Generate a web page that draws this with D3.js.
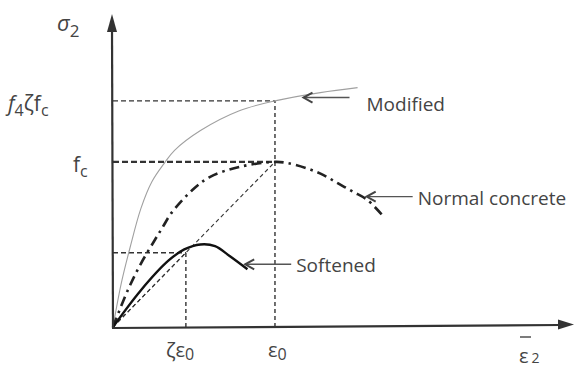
<!DOCTYPE html>
<html>
<head>
<meta charset="utf-8">
<script src="https://cdn.jsdelivr.net/npm/d3@7"></script>
<style>
  body { margin: 0; background: #fff; }
  text { font-family: "Open Sans", sans-serif; fill: #444; }
</style>
</head>
<body>
<div id="chart"></div>
<script>
// strain / eps0 and stress / fc
var normalEps   = [0, 0.09, 0.17, 0.26, 0.31, 0.36, 0.49, 0.6, 0.78, 1, 1.074, 1.2, 1.3, 1.39, 1.48, 1.57, 1.66];
var normalSig   = [0, 0.22, 0.38, 0.53, 0.61, 0.69, 0.83, 0.91, 0.97, 1, 0.994, 0.96, 0.92, 0.87, 0.82, 0.77, 0.68];
var modifiedEps = [0, 0.05, 0.105, 0.173, 0.24, 0.315, 0.38, 0.54, 0.78, 1, 1.28, 1.51];
var modifiedSig = [0, 0.26, 0.48, 0.72, 0.88, 0.99, 1.07, 1.19, 1.31, 1.37, 1.42, 1.45];
var softEps     = [0, 0.17, 0.34, 0.44, 0.54, 0.63, 0.72, 0.83];
var softSig     = [0, 0.22, 0.40, 0.47, 0.5, 0.49, 0.43, 0.35];

var zeta = 0.45;     // zeta * eps0 and zeta * fc
var peakMod = 1.37;  // f4 zeta fc

// arrow tips of the curve labels
var labelNames = ["Modified", "Normal concrete", "Softened"];
var labelEps   = [1.17, 1.56, 0.81];
var labelSig   = [1.39, 0.79, 0.38];

var width = 574, height = 369;

var svg = d3.select('#chart')
    .append('svg')
        .attr('width', width)
        .attr('height', height);

var x = d3.scaleLinear().domain([0, 2.84]).range([113, 573]);
var y = d3.scaleLinear().domain([0, 1.89]).range([327, 15]);

function pts(xs, ys) {
    return xs.map(function(v, i) { return [v, ys[i]]; });
}

var line = d3.line()
    .x(function(d) { return x(d[0]); })
    .y(function(d) { return y(d[1]); })
    .curve(d3.curveCatmullRom.alpha(0.5));

var straight = d3.line()
    .x(function(d) { return x(d[0]); })
    .y(function(d) { return y(d[1]); });

// guide lines
var guides = [
    {p: [[0, peakMod], [1, peakMod]], w: 1.2, dash: "5,3"},
    {p: [[1, 0], [1, peakMod]], w: 1.4, dash: "4,3"},
    {p: [[0, 1], [1, 1]], w: 2.2, dash: "6,3"},
    {p: [[0, zeta], [zeta, zeta]], w: 1.4, dash: "5,3"},
    {p: [[zeta, 0], [zeta, zeta]], w: 1.4, dash: "4,3"},
    {p: [[0, 0], [1, 1]], w: 1.1, dash: "4,3"},
    {p: [[0, 0], [zeta, zeta]], w: 1.1, dash: "4,3"}
];
svg.selectAll('.guide')
    .data(guides)
    .enter()
    .append('path')
        .attr('class', 'guide')
        .attr('d', function(d) { return straight(d.p); })
        .attr('fill', 'none')
        .attr('stroke', '#333')
        .attr('stroke-width', function(d) { return d.w; })
        .attr('stroke-dasharray', function(d) { return d.dash; });

// curves
svg.append('path')
    .datum(pts(modifiedEps, modifiedSig))
    .attr('d', line)
    .attr('fill', 'none')
    .attr('stroke', '#a0a0a0')
    .attr('stroke-width', 1.1);

svg.append('path')
    .datum(pts(normalEps, normalSig))
    .attr('d', line)
    .attr('fill', 'none')
    .attr('stroke', '#222')
    .attr('stroke-width', 2.6)
    .attr('stroke-dasharray', '10,5,2.5,5');

svg.append('path')
    .datum(pts(softEps, softSig))
    .attr('d', line)
    .attr('fill', 'none')
    .attr('stroke', '#111')
    .attr('stroke-width', 2.4);

// axes with arrow heads
var axisCol = '#333';
svg.append('line')
    .attr('x1', x(0)).attr('y1', y(0) + 1)
    .attr('x2', x(0) - 1).attr('y2', 28)
    .attr('stroke', axisCol).attr('stroke-width', 2.2);
svg.append('path')
    .attr('d', 'M' + (x(0) - 1) + ',' + 14 + 'L' + (x(0) - 6) + ',' + 32 + 'L' + (x(0) + 4) + ',' + 32 + 'Z')
    .attr('fill', axisCol);

svg.append('line')
    .attr('x1', x(0) - 1).attr('y1', y(0) + 1)
    .attr('x2', 560).attr('y2', y(0) - 2)
    .attr('stroke', axisCol).attr('stroke-width', 2.2);
svg.append('path')
    .attr('d', 'M574,' + (y(0) - 2.5) + 'L558,' + (y(0) - 7.5) + 'L558,' + (y(0) + 2.5) + 'Z')
    .attr('fill', axisCol);

// label arrows
var ann = svg.selectAll('.ann')
    .data(labelNames)
    .enter()
    .append('g')
        .attr('class', 'ann')
        .attr('transform', function(d, i) {
            return 'translate(' + x(labelEps[i]) + ',' + y(labelSig[i]) + ')';
        });
ann.append('line')
    .attr('x1', 1).attr('y1', 0)
    .attr('x2', 47).attr('y2', 0)
    .attr('stroke', '#555').attr('stroke-width', 1.4);
ann.append('path')
    .attr('d', 'M10,-5L1,0L10,5')
    .attr('fill', 'none')
    .attr('stroke', '#444').attr('stroke-width', 2);
ann.append('text')
    .attr('x', function(d, i) { return i === 0 ? 64 : 52; })
    .attr('y', function(d, i) { return i === 0 ? 13 : 8; })
    .style('font-size', '19px')
    .text(function(d) { return d; });

// axis symbols
var sym = svg.append('text').attr('x', 57).attr('y', 31).style('font-size', '22px');
sym.append('tspan').style('font-style', 'italic').text('σ');
sym.append('tspan').attr('dy', 6).style('font-size', '17px').text('2');

var f4 = svg.append('text').attr('x', 8).attr('y', y(peakMod) + 10).style('font-size', '21px');
f4.append('tspan').style('font-style', 'italic').text('f');
f4.append('tspan').attr('dy', 5).style('font-size', '16px').text('4');
f4.append('tspan').attr('dy', -5).text('ζf');
f4.append('tspan').attr('dy', 5).style('font-size', '16px').text('c');

var fc = svg.append('text').attr('x', 73).attr('y', y(1) + 10).style('font-size', '21px');
fc.append('tspan').text('f');
fc.append('tspan').attr('dy', 5).style('font-size', '16px').text('c');

var ze = svg.append('text').attr('x', x(zeta) - 20).attr('y', 357).style('font-size', '20px');
ze.append('tspan').text('ζε');
ze.append('tspan').attr('dy', 3).style('font-size', '16px').text('0');

var e0 = svg.append('text').attr('x', x(1) - 7).attr('y', 357).style('font-size', '20px');
e0.append('tspan').text('ε');
e0.append('tspan').attr('dy', 3).style('font-size', '16px').text('0');

var e2 = svg.append('text').attr('x', 519).attr('y', 363).style('font-size', '20px');
e2.append('tspan').text('ε');
e2.append('tspan').attr('dx', 3).style('font-size', '14px').text('2');
svg.append('line')
    .attr('x1', 520).attr('y1', 337).attr('x2', 531).attr('y2', 337)
    .attr('stroke', '#444').attr('stroke-width', 1.4);
</script>
</body>
</html>
